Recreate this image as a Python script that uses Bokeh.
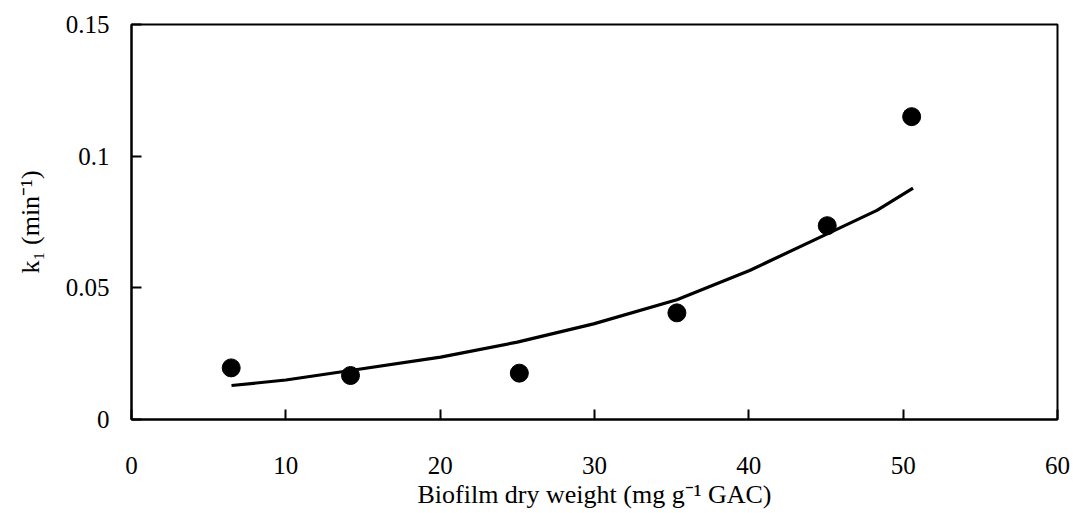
from bokeh.plotting import figure
from bokeh.models import Range1d, FixedTicker
from bokeh.embed import file_html
from bokeh.resources import INLINE

# Measured data points
biofilm_x = [6.46, 14.19, 25.13, 35.34, 45.08, 50.55]
k1_y = [0.0196, 0.0167, 0.0176, 0.0405, 0.0736, 0.115]

# Fitted curve
fit_x = [6.48, 10.0, 14.19, 20.03, 25.0, 29.94, 35.34, 40.05, 45.08, 48.3, 50.64]
fit_y = [0.0129, 0.0150, 0.0186, 0.0237, 0.0294, 0.0363, 0.0455, 0.0566, 0.0705, 0.0794, 0.0879]

x_ticks = [0, 10, 20, 30, 40, 50, 60]
y_ticks = [0, 0.05, 0.1, 0.15]
y_tick_labels = ["0", "0.05", "0.1", "0.15"]

FONT = "Liberation Serif"

p = figure(width=1073, height=513, output_backend="svg", toolbar_location=None,
           x_range=Range1d(0, 60), y_range=Range1d(0, 0.15),
           min_border_left=131, min_border_right=16, min_border_top=24, min_border_bottom=94)

p.background_fill_color = "white"
p.border_fill_color = "white"
p.outline_line_color = "black"
p.outline_line_width = 2
p.xgrid.visible = False
p.ygrid.visible = False

p.line(fit_x, fit_y, line_color="black", line_width=3.2)
p.scatter(biofilm_x, k1_y, size=18, marker="circle", fill_color="black", line_color="black")

xa = p.xaxis[0]
xa.ticker = FixedTicker(ticks=x_ticks)
xa.minor_tick_line_color = None
xa.major_tick_in = 10
xa.major_tick_out = 0
xa.major_tick_line_width = 2
xa.axis_line_width = 2
xa.major_label_standoff = 37
xa.major_label_text_font = FONT
xa.major_label_text_font_size = "25px"
xa.major_label_text_color = "black"
xa.axis_label = "Biofilm dry weight (mg g\u207b\u00b9 GAC)"
xa.axis_label_text_font = FONT
xa.axis_label_text_font_size = "26px"
xa.axis_label_text_font_style = "normal"
xa.axis_label_text_color = "black"
xa.axis_label_standoff = 3

ya = p.yaxis[0]
ya.ticker = FixedTicker(ticks=y_ticks)
ya.major_label_overrides = {t: l for t, l in zip(y_ticks, y_tick_labels)}
ya.minor_tick_line_color = None
ya.major_tick_in = 10
ya.major_tick_out = 0
ya.major_tick_line_width = 2
ya.axis_line_width = 2
ya.major_label_standoff = 22
ya.major_label_text_font = FONT
ya.major_label_text_font_size = "25px"
ya.major_label_text_color = "black"
ya.axis_label = "k\u2081 (min\u207b\u00b9)"
ya.axis_label_text_font = FONT
ya.axis_label_text_font_size = "26px"
ya.axis_label_text_font_style = "normal"
ya.axis_label_text_color = "black"
ya.axis_label_standoff = 18

open("out.html", "w").write(file_html(p, INLINE))
